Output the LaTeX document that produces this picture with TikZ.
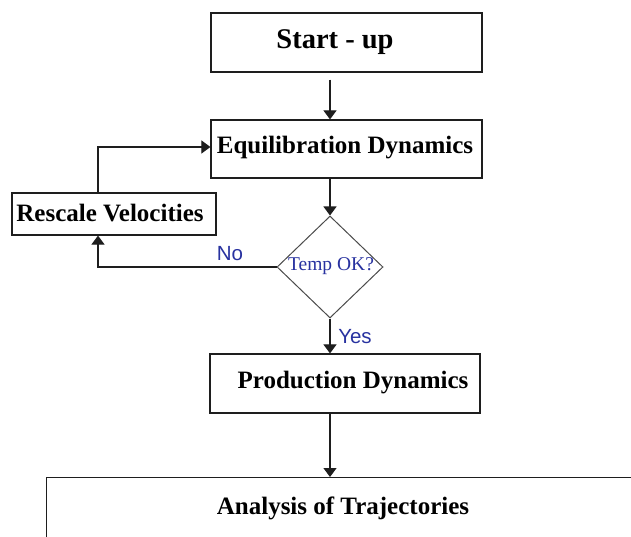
\documentclass[tikz,border=0pt]{standalone}
\usepackage{fontspec}
\setmainfont{Liberation Serif}
\newfontfamily\labelsans{Liberation Sans}
\usetikzlibrary{arrows.meta,shapes.geometric}
\definecolor{lblue}{RGB}{40,50,160}
\definecolor{edge}{RGB}{30,30,30}
\tikzset{
  box/.style={draw=edge, line width=1.2pt, rectangle, inner sep=0pt},
  boxtext/.style={font=\fontsize{25}{29}\selectfont\bfseries, inner sep=0pt, anchor=center},
  arr/.style={draw=edge, line width=1.1pt, -{Triangle[width=13pt,length=9pt]}},
  bluesans/.style={text=lblue, font=\labelsans\fontsize{20.5}{22}\selectfont, inner sep=0pt},
}
\begin{document}
\begin{tikzpicture}[x=1pt,y=-1pt]
\useasboundingbox (0,0) rectangle (631,537);
\clip (0,0) rectangle (631,537);
\fill[white] (0,0) rectangle (631,537);

% boxes
\node[box, minimum width=271pt, minimum height=59pt] (start) at (346.5,42.5) {};
\node[boxtext, font=\fontsize{28.5}{32}\selectfont\bfseries] (startT) at (335,42) {Start - up};

\node[box, minimum width=271pt, minimum height=58pt] (equil) at (346.5,149) {};
\node[boxtext] (equilT) at (345,148) {Equilibration Dynamics};

\node[box, minimum width=204pt, minimum height=42pt] (resc) at (114,214) {};
\node[boxtext] (rescT) at (110,213.5) {Rescale Velocities};

\node[draw=edge!80, line width=1pt, diamond, inner sep=0pt, minimum width=106pt, minimum height=102pt] (dia) at (330,267) {};
\node[text=lblue, font=\fontsize{19.5}{21}\selectfont, inner sep=0pt] (diaT) at (331,266) {Temp OK?};

\node[box, minimum width=270pt, minimum height=59pt] (prod) at (345,383.5) {};
\node[boxtext] (prodT) at (353,383) {Production Dynamics};

\node[box, anchor=north west, minimum width=620pt, minimum height=100pt] (anal) at (46,477) {};
\node[boxtext] (analT) at (343,508) {Analysis of Trajectories};

% connectors
\draw[arr, shorten <=7pt] (start.south -| dia.north) -- (equil.north -| dia.north);
\draw[arr] (equil.south -| dia.north) -- (dia.north);
\draw[arr] (dia.south) -- (prod.north -| dia.south);
\node[bluesans] (yes) at (355,337) {Yes};
\draw[arr] (prod.south -| dia.south) -- (anal.north -| dia.south);
\draw[arr] (dia.west) -| ([xshift=-16pt]resc.south);
\node[bluesans] (no) at (230,254) {No};
\draw[arr] ([xshift=-16pt]resc.north) |- ([yshift=2pt]equil.west);
\end{tikzpicture}
\end{document}
